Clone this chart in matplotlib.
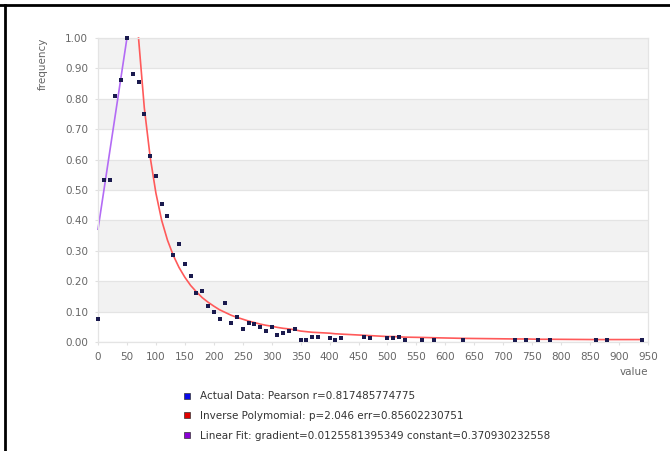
import matplotlib
matplotlib.use("Agg")
import matplotlib.pyplot as plt
from matplotlib.lines import Line2D

# observed data (value, frequency)
values = [0, 10, 20, 30, 40, 50, 60, 70, 80, 90, 100, 110, 120, 130, 140, 150,
          160, 170, 180, 190, 200, 210, 220, 230, 240, 250, 260, 270, 280, 290,
          300, 310, 320, 330, 340, 350, 360, 370, 380, 400, 410, 420, 460, 470,
          500, 510, 520, 530, 560, 580, 630, 720, 740, 760, 780, 860, 880, 940]
freqs = [0.077, 0.534, 0.534, 0.81, 0.862, 1.00, 0.88, 0.855, 0.75, 0.611,
         0.547, 0.455, 0.413, 0.286, 0.321, 0.258, 0.216, 0.161, 0.169, 0.118,
         0.099, 0.077, 0.127, 0.064, 0.083, 0.042, 0.064, 0.059, 0.048, 0.035,
         0.050, 0.023, 0.030, 0.036, 0.043, 0.007, 0.007, 0.016, 0.016, 0.013,
         0.007, 0.013, 0.016, 0.013, 0.013, 0.013, 0.016, 0.007, 0.007, 0.007,
         0.007, 0.007, 0.007, 0.007, 0.007, 0.007, 0.007, 0.007]

# inverse polynomial fit as drawn
inv_x = [70, 80, 90, 100, 110, 120, 130, 140, 150, 160, 170, 180, 190, 200,
         210, 220, 230, 240, 250, 260, 270, 280, 290, 300, 310, 320, 330, 340,
         350, 360, 370, 380, 400, 410, 420, 460, 470, 500, 510, 520, 530, 560,
         580, 630, 720, 740, 760, 780, 860, 880, 940]
inv_y = [1.0, 0.77, 0.61, 0.49, 0.40, 0.335, 0.285, 0.245, 0.213, 0.186,
         0.165, 0.146, 0.131, 0.118, 0.106, 0.097, 0.088, 0.081, 0.075, 0.069,
         0.064, 0.059, 0.055, 0.052, 0.048, 0.045, 0.043, 0.040, 0.036, 0.034,
         0.032, 0.031, 0.029, 0.027, 0.026, 0.022, 0.021, 0.018, 0.018, 0.017,
         0.016, 0.015, 0.014, 0.012, 0.010, 0.010, 0.009, 0.009, 0.008, 0.008,
         0.008]

# linear fit as drawn
lin_x = [0, 50]
lin_y = [0.371, 1.0]

labels = ["Actual Data: Pearson r=0.817485774775",
          "Inverse Polymomial: p=2.046 err=0.85602230751",
          "Linear Fit: gradient=0.0125581395349 constant=0.370930232558"]

W, H = 670, 451
fig = plt.figure(figsize=(W / 100, H / 100), dpi=100)
ax = fig.add_axes([98 / W, 1 - 342 / H, (648 - 98) / W, (342 - 38) / H])

# alternating bands
for i in range(10):
    lo = i / 10
    if i % 2 == 1:
        ax.axhspan(lo, lo + 0.1, color="#f2f2f2", lw=0, zorder=0)
for i in range(11):
    ax.axhline(i / 10, color="#e4e4e4", lw=0.9, zorder=0.5)

ax.plot(lin_x, lin_y, color="#b36bf5", lw=1.2, zorder=2, clip_on=False)
ax.plot(inv_x, inv_y, color="#ff5a5a", lw=1.2, zorder=2, clip_on=False)
ax.plot(values, freqs, "s", color="#1a1a4e", ms=2.4, mew=0, zorder=3,
        clip_on=False)

ax.set_xlim(0, 950)
ax.set_ylim(0, 1.0)
ax.set_xticks(range(0, 951, 50))
ax.set_yticks([i / 10 for i in range(11)])
ax.set_yticklabels([f"{i / 10:.2f}" for i in range(11)])
ax.tick_params(labelsize=7.5, colors="#e0e0e0", labelcolor="#666666",
               length=2, pad=5)
for s in ax.spines.values():
    s.set_color("#e4e4e4")
    s.set_linewidth(0.9)

fig.text(43 / W, 1 - 38 / H, "frequency", rotation=90, ha="center", va="top",
         fontsize=7.5, color="#666666")
fig.text(648 / W, 1 - 372 / H, "value", ha="right", va="center",
         fontsize=7.5, color="#666666")

handles = [Line2D([], [], ls="", marker="s", ms=4.5, mfc=c, mec="#333333",
                  mew=0.5) for c in ["#0a0ae8", "#e00000", "#8a00d4"]]
fig.legend(handles, labels, loc="upper left",
           bbox_to_anchor=(178 / W, 1 - 386 / H), frameon=False,
           fontsize=7.5, labelcolor="#333333", handlelength=0.8,
           handletextpad=0.8, labelspacing=0.95, borderpad=0)

# outer frame (top and left only)
fig.add_artist(Line2D([0, 1], [1 - 4.5 / H, 1 - 4.5 / H], color="black",
                      lw=2, transform=fig.transFigure))
fig.add_artist(Line2D([5 / W, 5 / W], [0, 1 - 4.5 / H], color="black",
                      lw=2, transform=fig.transFigure))

fig.savefig("out.png", dpi=100)
